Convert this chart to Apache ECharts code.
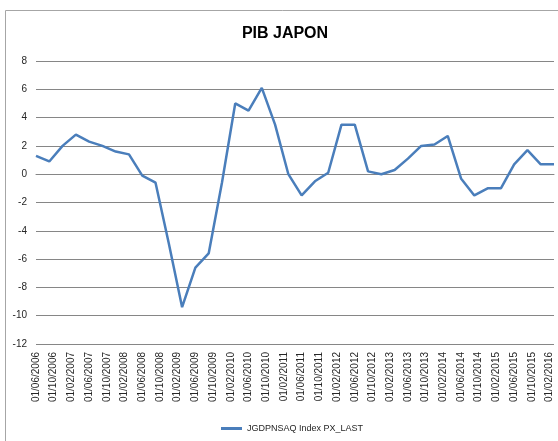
<!DOCTYPE html>
<html>
<head>
<meta charset="utf-8">
<script src="https://cdn.jsdelivr.net/npm/echarts@6/dist/echarts.min.js"></script>
<style>
html, body { margin: 0; padding: 0; background: #fff; }
#chart { width: 558px; height: 441px; }
</style>
</head>
<body>
<div id="chart"></div>
<script>
// quarterly observations (Excel date axis, labels every 4 months)
const quarters = [
  "01/06/2006", "01/09/2006", "01/12/2006",
  "01/03/2007", "01/06/2007", "01/09/2007", "01/12/2007",
  "01/03/2008", "01/06/2008", "01/09/2008", "01/12/2008",
  "01/03/2009", "01/06/2009", "01/09/2009", "01/12/2009",
  "01/03/2010", "01/06/2010", "01/09/2010", "01/12/2010",
  "01/03/2011", "01/06/2011", "01/09/2011", "01/12/2011",
  "01/03/2012", "01/06/2012", "01/09/2012", "01/12/2012",
  "01/03/2013", "01/06/2013", "01/09/2013", "01/12/2013",
  "01/03/2014", "01/06/2014", "01/09/2014", "01/12/2014",
  "01/03/2015", "01/06/2015", "01/09/2015", "01/12/2015",
  "01/03/2016"
];
const pibValues = [
  1.3, 0.9, 2.0,
  2.8, 2.3, 2.0, 1.6,
  1.4, -0.1, -0.6, -4.9,
  -9.4, -6.6, -5.6, -0.6,
  5.0, 4.5, 6.1, 3.5,
  0.0, -1.5, -0.5, 0.1,
  3.5, 3.5, 0.2, 0.0,
  0.3, 1.1, 2.0, 2.1,
  2.7, -0.3, -1.5, -1.0,
  -1.0, 0.7, 1.7, 0.7,
  0.7
];
const seriesName = "JGDPNSAQ Index PX_LAST";

// month categories 06/2006 .. 03/2016 for the date axis
const months = [];
for (let y = 2006, m = 6; y < 2016 || (y === 2016 && m <= 3); m++) {
  if (m > 12) { m = 1; y++; if (y === 2016 && m > 3) break; }
  months.push("01/" + String(m).padStart(2, "0") + "/" + y);
}

const font = "'Liberation Sans Narrow', 'Liberation Sans', sans-serif";
const chart = echarts.init(document.getElementById("chart"));

chart.setOption({
  backgroundColor: "#fff",
  animation: false,
  textStyle: { fontFamily: font },
  graphic: [
    {
      type: "rect",
      shape: { x: 5.5, y: 10.5, width: 700, height: 600 },
      style: { fill: "none", stroke: "#a6a6a6", lineWidth: 1 },
      silent: true
    },
    {
      type: "text",
      x: 285,
      y: 34,
      style: {
        text: "PIB JAPON",
        font: "bold 16px " + font,
        fill: "#000",
        align: "center",
        verticalAlign: "middle"
      }
    }
  ],
  legend: {
    data: [seriesName],
    left: 216,
    top: 419,
    itemWidth: 21,
    itemHeight: 3,
    itemGap: 2,
    icon: "rect",
    textStyle: { fontSize: 9, color: "#262626", fontFamily: font }
  },
  grid: {
    left: 36,
    right: 4,
    top: 61,
    bottom: 97
  },
  xAxis: {
    type: "category",
    data: months,
    boundaryGap: false,
    axisLine: { show: true, lineStyle: { color: "#868686", width: 1 } },
    axisTick: { show: false },
    axisLabel: {
      interval: 3,
      rotate: 90,
      margin: 8,
      fontSize: 10,
      color: "#262626",
      fontFamily: font
    },
    splitLine: { show: false }
  },
  yAxis: {
    type: "value",
    min: -12,
    max: 8,
    interval: 2,
    axisLine: { show: false },
    axisTick: { show: false },
    axisLabel: { fontSize: 10, color: "#262626", margin: 9, fontFamily: font },
    splitLine: { lineStyle: { color: "#868686", width: 1 } }
  },
  series: [
    {
      name: seriesName,
      type: "line",
      data: quarters.map((q, i) => [q, pibValues[i]]),
      symbol: "none",
      lineStyle: { color: "#4a7ebb", width: 2.5 },
      itemStyle: { color: "#4a7ebb" }
    }
  ]
});
</script>
</body>
</html>
